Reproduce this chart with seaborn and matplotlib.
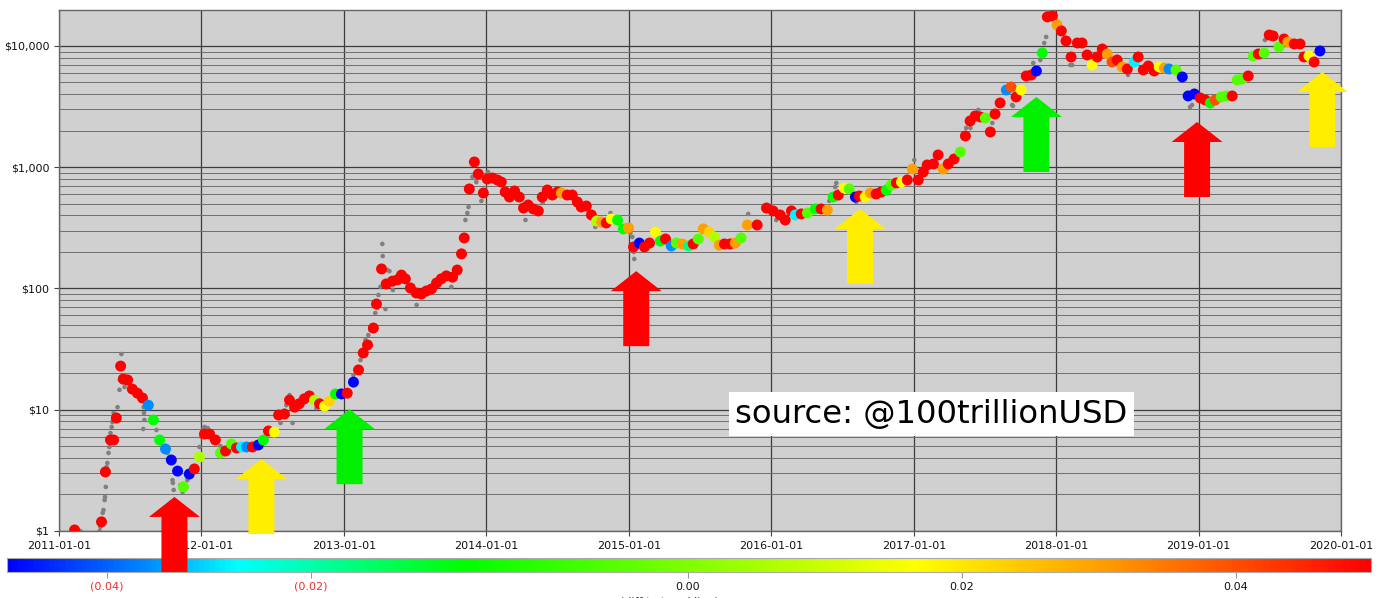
import numpy as np
import pandas as pd
import matplotlib
matplotlib.use("Agg")
import matplotlib.pyplot as plt
import matplotlib.dates as mdates
import matplotlib.colors as mcolors
import matplotlib.ticker as mticker
import seaborn as sns

plt.rcParams['font.family'] = ['DejaVu Sans']

# ---------------- data ----------------
origin = '2011-01-01'

# large coloured dots: day offset from origin, price (USD), colour value
dot_day = [40, 109, 119, 132, 140, 147, 158, 165, 176, 188,
           201, 214, 229, 242, 258, 273, 288, 304, 319, 334,
           347, 360, 373, 386, 401, 414, 427, 442, 455, 468,
           481, 496, 511, 524, 537, 552, 563, 578, 591, 604,
           616, 629, 642, 655, 668, 681, 693, 709, 724, 739,
           755, 768, 780, 791, 806, 814, 827, 839, 855, 868,
           878, 888, 901, 916, 929, 942, 955, 968, 980, 993,
           1009, 1021, 1032, 1039, 1052, 1065, 1075, 1088, 1098, 1111,
           1124, 1134, 1144, 1155, 1168, 1180, 1191, 1203, 1216, 1229,
           1239, 1252, 1265, 1278, 1288, 1303, 1316, 1329, 1339, 1352,
           1365, 1378, 1391, 1403, 1416, 1432, 1447, 1460, 1473, 1488,
           1501, 1514, 1529, 1542, 1555, 1570, 1583, 1598, 1614, 1626,
           1639, 1652, 1667, 1680, 1693, 1706, 1721, 1734, 1749, 1765,
           1790, 1814, 1831, 1849, 1862, 1878, 1888, 1903, 1919, 1939,
           1954, 1970, 1985, 1998, 2013, 2026, 2042, 2052, 2067, 2080,
           2095, 2108, 2121, 2134, 2147, 2160, 2175, 2188, 2203, 2216,
           2226, 2242, 2254, 2267, 2280, 2295, 2311, 2324, 2336, 2349,
           2362, 2375, 2388, 2400, 2413, 2429, 2441, 2454, 2467, 2480,
           2493, 2506, 2521, 2534, 2547, 2559, 2570, 2582, 2595, 2611,
           2623, 2636, 2649, 2662, 2675, 2688, 2700, 2713, 2726, 2739,
           2757, 2767, 2780, 2793, 2808, 2821, 2834, 2846, 2864, 2880,
           2895, 2911, 2926, 2939, 2952, 2964, 2980, 2993, 3008, 3021,
           3034, 3049, 3062, 3075, 3090, 3103, 3113, 3128, 3141, 3151,
           3167, 3182, 3192, 3205, 3218, 3233]

dot_price = [1.02, 1.19, 3.07, 5.63, 5.63, 8.55, 22.9, 17.9, 17.6, 14.8,
             13.7, 12.5, 10.9, 8.23, 5.63, 4.75, 3.85, 3.12, 2.31, 2.95,
             3.25, 4.08, 6.31, 6.31, 5.63, 4.40, 4.57, 5.22, 4.84, 4.93,
             4.93, 4.93, 5.12, 5.63, 6.68, 6.55, 9.05, 9.22, 12.0, 10.5,
             11.2, 12.3, 13.0, 12.0, 11.2, 10.7, 11.8, 13.5, 13.5, 13.7,
             16.9, 21.3, 29.4, 34.2, 47.2, 74.5, 145, 109, 115, 118,
             129, 120, 101, 91.8, 90.1, 95.4, 99.1, 111, 120, 127,
             124, 142, 193, 261, 662, 1105, 880, 613, 800, 815,
             785, 755, 625, 568, 637, 568, 461, 488, 453, 436,
             568, 649, 590, 625, 613, 590, 590, 517, 470, 479,
             404, 360, 353, 347, 374, 367, 310, 316, 220, 237,
             220, 237, 292, 246, 256, 224, 237, 233, 224, 233,
             256, 310, 292, 266, 228, 233, 233, 237, 261, 334,
             334, 461, 436, 404, 367, 436, 404, 412, 419, 453,
             453, 444, 568, 590, 674, 662, 568, 579, 568, 613,
             602, 625, 649, 714, 742, 755, 785, 967, 785, 914,
             1044, 1064, 1262, 967, 1064, 1169, 1336, 1810, 2406, 2647,
             2597, 2549, 1953, 2749, 3388, 4336, 4589, 3797, 4336, 5656,
             5765, 6220, 8756, 17350, 17680, 14900, 13300, 11000, 8115, 10580,
             10580, 8430, 6972, 8115, 9447, 8590, 7380, 7663, 6710, 6460,
             7380, 8115, 6340, 6839, 6220, 6710, 6585, 6460, 6340, 5550,
             3870, 4019, 3726, 3585, 3388, 3585, 3797, 3870, 3870, 5243,
             5343, 5656, 8270, 8590, 8756, 12320, 12090, 9813, 11420, 10790,
             10390, 10390, 8115, 8270, 7380, 9096]

dot_diff = [0.05, 0.05, 0.05, 0.05, 0.05, 0.05, 0.05, 0.05, 0.05, 0.05,
            0.05, 0.05, -0.036, -0.012, -0.012, -0.036, -0.05, -0.05, -0.004, -0.05,
            0.05, 0.006, 0.05, 0.05, 0.05, -0.004, 0.05, -0.004, 0.05, -0.028,
            -0.036, 0.05, -0.05, -0.012, 0.05, 0.017, 0.05, 0.05, 0.05, 0.05,
            0.05, 0.05, 0.05, 0.006, 0.05, 0.017, 0.023, -0.012, -0.05, 0.05,
            -0.05, 0.05, 0.05, 0.05, 0.05, 0.05, 0.05, 0.05, 0.05, 0.05,
            0.05, 0.05, 0.05, 0.05, 0.05, 0.05, 0.05, 0.05, 0.05, 0.05,
            0.05, 0.05, 0.05, 0.05, 0.05, 0.05, 0.05, 0.05, 0.05, 0.05,
            0.05, 0.05, 0.05, 0.05, 0.05, 0.05, 0.05, 0.05, 0.05, 0.05,
            0.05, 0.05, 0.05, 0.05, 0.03, 0.05, 0.05, 0.05, 0.05, 0.05,
            0.05, 0.006, 0.03, 0.05, 0.017, -0.012, -0.012, 0.03, 0.05, -0.05,
            0.05, 0.05, 0.017, -0.012, 0.05, -0.036, -0.004, 0.03, -0.018, 0.05,
            -0.004, 0.03, 0.023, 0.006, 0.03, 0.05, 0.05, 0.03, -0.004, 0.03,
            0.05, 0.05, 0.05, 0.05, 0.05, 0.05, -0.028, 0.05, -0.004, -0.012,
            0.05, 0.03, -0.012, 0.05, 0.017, -0.004, -0.05, 0.05, 0.017, 0.03,
            0.05, 0.05, -0.012, -0.004, 0.05, 0.017, 0.05, 0.03, 0.05, 0.05,
            0.05, 0.05, 0.05, 0.03, 0.05, 0.05, -0.004, 0.05, 0.05, 0.05,
            0.05, -0.004, 0.05, 0.05, 0.05, -0.036, 0.04, 0.05, 0.017, 0.05,
            0.05, -0.05, -0.012, 0.05, 0.05, 0.03, 0.05, 0.05, 0.05, 0.05,
            0.05, 0.05, 0.017, 0.05, 0.05, 0.03, 0.04, 0.05, 0.03, 0.05,
            -0.028, 0.05, 0.05, 0.05, 0.05, 0.017, 0.03, -0.036, -0.004, -0.05,
            -0.05, -0.05, 0.05, 0.05, -0.012, 0.04, -0.004, -0.004, 0.05, -0.004,
            -0.004, 0.05, -0.004, 0.05, -0.004, 0.05, 0.05, -0.004, 0.05, 0.03,
            0.05, 0.05, 0.05, 0.017, 0.05, -0.05]

# small grey dots (daily prices visible between the big dots)
gray_day = [55, 104, 106, 112, 114, 117, 118, 120, 122, 124,
            127, 129, 132, 135, 137, 140, 150, 155, 156, 158,
            160, 163, 168, 173, 196, 202, 209, 216, 217, 218,
            219, 250, 255, 260, 278, 291, 292, 294, 311, 317,
            329, 360, 365, 368, 373, 381, 414, 568, 578, 583,
            591, 599, 660, 755, 765, 773, 778, 786, 793, 798,
            811, 816, 819, 824, 829, 830, 832, 837, 842, 847,
            856, 917, 1006, 1042, 1047, 1050, 1060, 1070, 1083, 1100,
            1196, 1240, 1375, 1414, 1465, 1470, 1474, 1475, 1767, 1839,
            1975, 1990, 1993, 2044, 2193, 2326, 2337, 2357, 2393, 2444,
            2446, 2498, 2516, 2522, 2526, 2531, 2536, 2544, 2593, 2598,
            2741, 2900, 2905, 3092]
gray_price = [1.00, 1.00, 1.08, 1.41, 1.49, 1.80, 1.91, 2.31, 3.37, 3.64,
              4.40, 4.93, 6.43, 7.21, 7.93, 9.40, 10.5, 14.6, 17.6, 18.6,
              28.8, 16.9, 15.4, 16.6, 13.7, 13.2, 12.0, 6.94, 10.5, 9.40,
              8.23, 6.81, 5.63, 5.32, 4.40, 2.63, 2.49, 2.18, 2.39, 2.10,
              2.63, 4.93, 5.96, 6.81, 7.21, 7.07, 5.02, 7.78, 9.77, 10.9,
              13.2, 7.78, 10.3, 19.3, 21.3, 25.7, 28.3, 37.6, 41.3, 45.5,
              62.8, 69.1, 88.4, 103, 233, 185, 150, 67.7, 142, 139,
              97.2, 73.1, 103, 367, 419, 470, 831, 755, 527, 914,
              367, 507, 322, 419, 287, 266, 200, 175, 412, 367,
              527, 687, 742, 517, 1147, 2107, 2107, 2967, 2317, 3262,
              3200, 7240, 7663, 9268, 10580, 11870, 19800, 19800, 6972, 6972,
              5765, 3140, 3262, 11200]

# arrows: date, price at the arrow tip, colour
arrow_date = ['2011-10-24', '2012-06-03', '2013-01-15', '2015-01-20',
              '2016-08-16', '2017-11-11', '2018-12-28', '2019-11-14']
arrow_tip = [1.91, 3.92, 10.1, 139, 453, 3795, 2361, 6105]
arrow_color = ['#ff0000', '#ffee00', '#00f000', '#ff0000',
               '#ffee00', '#00f000', '#ff0000', '#ffee00']

# colour bar: value anchors and where they sit along the bar
cbar_anchor_vals = [-0.05, -0.04, -0.02, 0.0, 0.02, 0.04, 0.05]
cbar_anchor_pos = [0.0, 0.0733, 0.223, 0.499, 0.700, 0.901, 1.0]
cbar_ticks = [-0.04, -0.02, 0.0, 0.02, 0.04]
ytick_vals = [1, 10, 100, 1000, 10000]

source_date, source_price, source_text = '2017-02-14', 9.22, 'source: @100trillionUSD'
cbar_label = '(diff to trend line)'

# ---------------- figure ----------------
t0 = pd.Timestamp(origin)
dots = pd.DataFrame({'date': t0 + pd.to_timedelta(dot_day, unit='D'),
                     'price': dot_price, 'diff': dot_diff})
gray = pd.DataFrame({'date': t0 + pd.to_timedelta(gray_day, unit='D'),
                     'price': gray_price})

cmap = mcolors.LinearSegmentedColormap.from_list('bluered', [
    (0.0, '#0000ff'), (0.10, '#0088ff'), (0.167, '#00ffff'), (0.333, '#00ff00'),
    (0.5, '#80ff00'), (0.667, '#ffff00'), (0.80, '#ffa000'), (0.90, '#ff5000'),
    (1.0, '#ff0000')])


def _fwd(v):
    return np.interp(v, cbar_anchor_vals, cbar_anchor_pos)


def _inv(p):
    return np.interp(p, cbar_anchor_pos, cbar_anchor_vals)


norm = mcolors.FuncNorm((_fwd, _inv), vmin=-0.05, vmax=0.05)

W, H = 1376, 598
fig = plt.figure(figsize=(W / 100, H / 100), dpi=100)
ax = fig.add_axes([59 / W, 1 - 531 / H, (1341 - 59) / W, (531 - 10) / H])
cax = fig.add_axes([7 / W, 1 - 572 / H, 1364 / W, 14 / H])
ax.set_zorder(2)
cax.set_zorder(1)

ax.set_facecolor('#d0d0d0')
ax.set_yscale('log')

sns.scatterplot(data=gray, x='date', y='price', color='#808080', s=11,
                linewidth=0, edgecolor='none', ax=ax, zorder=3)
sns.scatterplot(data=dots, x='date', y='price', hue='diff', palette=cmap,
                hue_norm=norm, s=62, linewidth=0, edgecolor='none',
                legend=False, ax=ax, zorder=4)

ax.set_xlim(pd.Timestamp('2011-01-01'), pd.Timestamp('2020-01-01'))
ax.set_ylim(1, 19800)
ax.xaxis.set_major_locator(mdates.YearLocator())
ax.xaxis.set_major_formatter(mdates.DateFormatter('%Y-%m-%d'))
ax.yaxis.set_major_locator(mticker.FixedLocator(ytick_vals))
ax.yaxis.set_major_formatter(mticker.FuncFormatter(lambda v, p: f'${v:,.0f}'))
ax.yaxis.set_minor_locator(mticker.LogLocator(base=10, subs=np.arange(2, 10)))
ax.yaxis.set_minor_formatter(mticker.NullFormatter())
ax.tick_params(axis='y', which='minor', length=0)
ax.tick_params(axis='both', which='major', labelsize=8, color='#444444',
               labelcolor='#111111')
ax.grid(True, which='major', axis='both', color='#3c3c3c', lw=0.9)
ax.grid(True, which='minor', axis='y', color='#6e6e6e', lw=0.7)
ax.set_axisbelow(True)
ax.set_xlabel('')
ax.set_ylabel('')
for sp in ax.spines.values():
    sp.set_color('#666666')
    sp.set_linewidth(1.0)

ax.text(mdates.date2num(pd.Timestamp(source_date)), source_price, source_text,
        fontsize=23.2, ha='center', va='center', color='black', zorder=5,
        bbox=dict(boxstyle='square,pad=0.2', fc='white', ec='none'))

for d, p, c in zip(arrow_date, arrow_tip, arrow_color):
    ax.annotate('', xy=(mdates.date2num(pd.Timestamp(d)), p), xycoords='data',
                xytext=(0, -54), textcoords='offset points', zorder=6,
                arrowprops=dict(arrowstyle='simple,head_length=14.4,head_width=36.7,tail_width=18.7',
                                mutation_scale=1, fc=c, ec='none', lw=0,
                                shrinkA=0, shrinkB=0))

sm = plt.cm.ScalarMappable(norm=norm, cmap=cmap)
cb = fig.colorbar(sm, cax=cax, orientation='horizontal')
cb.set_ticks(cbar_ticks)
cb.set_ticklabels([f'({abs(v):.2f})' if v < 0 else f'{v:.2f}' for v in cbar_ticks])
cax.minorticks_off()
cb.outline.set_edgecolor('#aaaaaa')
cb.outline.set_linewidth(0.8)
cax.tick_params(axis='x', length=4, color='#999999', labelsize=8, pad=3)
for lab, v in zip(cax.get_xticklabels(), cbar_ticks):
    lab.set_color('#e83030' if v < 0 else '#111111')

fig.text(669 / W, 1 - 596 / H, cbar_label, ha='center', va='top', fontsize=8,
         color='#333333')

fig.savefig('out.png', dpi=100)
